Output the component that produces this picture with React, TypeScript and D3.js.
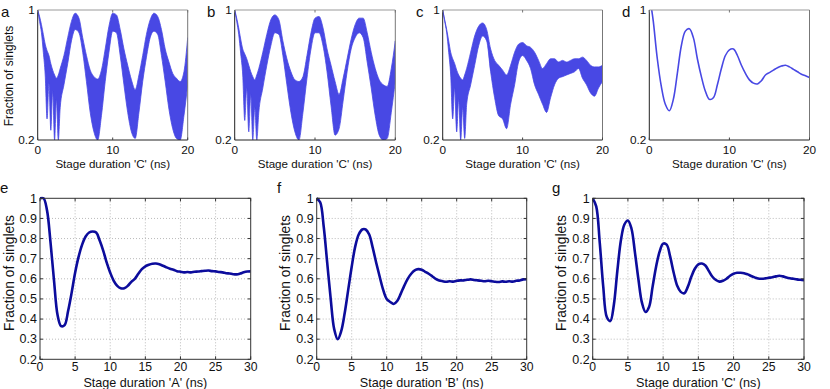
import React from "react";
import * as d3 from "d3";

// ---------- DATA ----------
const T_TOP = [0, 0.25, 0.5, 0.75, 1, 1.25, 1.5, 1.75, 2, 2.25, 2.5, 2.75, 3,
  3.5, 4, 4.5, 5, 5.5, 6, 6.5, 7, 7.5, 8, 8.5, 9, 9.5, 10, 10.5, 11, 11.5, 12, 12.5, 13,
  13.5, 14, 14.5, 15, 15.5, 16, 16.5, 17, 17.5, 18, 18.5, 19, 19.5, 20];

const A_UPPER = [1.0, 0.96, 0.91, 0.85, 0.79, 0.75, 0.72, 0.67, 0.63, 0.60, 0.58, 0.60, 0.64,
  0.72, 0.83, 0.93, 0.98, 0.95, 0.83, 0.72, 0.63, 0.59, 0.575,
  0.63, 0.76, 0.90, 0.98, 0.97, 0.88, 0.76, 0.66, 0.57, 0.51,
  0.60, 0.72, 0.85, 0.94, 0.98, 0.96, 0.88, 0.76, 0.68, 0.61,
  0.58, 0.56, 0.62, 0.83];
const A_LOWER = [1.0, 0.93, 0.86, 0.74, 0.60, 0.33, 0.55, 0.26, 0.50, 0.20, 0.45, 0.20, 0.40,
  0.54, 0.67, 0.81, 0.88, 0.86, 0.74, 0.56, 0.37, 0.25, 0.20,
  0.35, 0.56, 0.74, 0.87, 0.86, 0.72, 0.54, 0.37, 0.25, 0.21,
  0.37, 0.56, 0.71, 0.83, 0.87, 0.85, 0.72, 0.56, 0.39, 0.27,
  0.21, 0.20, 0.35, 0.54];

const B_UPPER = [1.0, 0.95, 0.89, 0.82, 0.76, 0.73, 0.70, 0.66, 0.62, 0.59, 0.57, 0.60, 0.64,
  0.74, 0.85, 0.94, 0.97, 0.94, 0.81, 0.70, 0.62, 0.57, 0.56,
  0.59, 0.72, 0.86, 0.95, 0.96, 0.89, 0.76, 0.66, 0.56, 0.48,
  0.58, 0.70, 0.82, 0.91, 0.95, 0.95, 0.86, 0.74, 0.64, 0.57,
  0.54, 0.53, 0.64, 0.81];
const B_LOWER = [1.0, 0.93, 0.85, 0.73, 0.60, 0.32, 0.52, 0.25, 0.48, 0.20, 0.40, 0.20, 0.37,
  0.52, 0.66, 0.78, 0.86, 0.85, 0.72, 0.54, 0.37, 0.25, 0.20,
  0.37, 0.58, 0.76, 0.86, 0.86, 0.78, 0.62, 0.41, 0.23, 0.27,
  0.44, 0.62, 0.76, 0.83, 0.86, 0.83, 0.68, 0.52, 0.35, 0.23,
  0.20, 0.21, 0.37, 0.56];

const C_UPPER = [1.0, 0.94, 0.88, 0.81, 0.74, 0.70, 0.67, 0.63, 0.60, 0.58, 0.57, 0.60, 0.64,
  0.74, 0.84, 0.90, 0.92, 0.88, 0.76, 0.69, 0.66, 0.63, 0.60,
  0.66, 0.74, 0.79, 0.80, 0.78, 0.77, 0.74, 0.69, 0.64, 0.67,
  0.70, 0.70, 0.68, 0.69, 0.68, 0.69, 0.70, 0.70, 0.71, 0.69,
  0.66, 0.65, 0.65, 0.66];
const C_LOWER = [1.0, 0.93, 0.86, 0.74, 0.60, 0.33, 0.52, 0.25, 0.45, 0.20, 0.40, 0.21, 0.42,
  0.54, 0.66, 0.78, 0.84, 0.81, 0.62, 0.46, 0.35, 0.33, 0.27,
  0.42, 0.54, 0.68, 0.72, 0.69, 0.64, 0.54, 0.48, 0.42, 0.37,
  0.46, 0.54, 0.58, 0.59, 0.60, 0.61, 0.62, 0.64, 0.58, 0.54,
  0.49, 0.47, 0.52, 0.56];

const T_D = [0.3, 0.5, 1, 1.5, 2, 2.5, 3, 3.5, 4, 4.5, 5, 5.5, 6, 6.5, 7, 7.5, 8, 8.5, 9, 9.5,
  10, 10.5, 11, 11.5, 12, 12.5, 13, 13.5, 14, 14.5, 15, 15.5, 16, 16.5, 17, 17.5, 18, 18.5, 19, 19.5, 20];
const D_VALUES = [1.0, 0.93, 0.70, 0.53, 0.42, 0.38, 0.45, 0.61, 0.78, 0.87, 0.885, 0.83, 0.70, 0.59,
  0.50, 0.45, 0.46, 0.54, 0.64, 0.72, 0.755, 0.76, 0.72, 0.66, 0.61, 0.57, 0.55, 0.545, 0.565,
  0.60, 0.615, 0.63, 0.645, 0.655, 0.66, 0.65, 0.635, 0.62, 0.605, 0.595, 0.585];

const T_BOT = d3.range(0, 30.01, 0.5);
const E_VALUES = [1.0, 1.0, 0.94, 0.78, 0.59, 0.42, 0.365, 0.37, 0.44, 0.53, 0.63, 0.71, 0.77, 0.81,
  0.83, 0.835, 0.83, 0.79, 0.74, 0.68, 0.63, 0.59, 0.565, 0.553, 0.553, 0.565, 0.585, 0.60, 0.625,
  0.648, 0.662, 0.67, 0.675, 0.676, 0.672, 0.665, 0.657, 0.65, 0.645, 0.638, 0.635, 0.632, 0.634,
  0.632, 0.635, 0.636, 0.638, 0.64, 0.641, 0.638, 0.637, 0.634, 0.632, 0.628, 0.626, 0.623, 0.622,
  0.626, 0.632, 0.636, 0.637];
const F_VALUES = [1.0, 0.98, 0.86, 0.68, 0.50, 0.35, 0.30, 0.34, 0.43, 0.545, 0.66, 0.76, 0.82, 0.845,
  0.845, 0.82, 0.755, 0.68, 0.61, 0.545, 0.50, 0.485, 0.475, 0.49, 0.525, 0.565, 0.60, 0.625, 0.642,
  0.648, 0.645, 0.635, 0.625, 0.613, 0.60, 0.592, 0.588, 0.585, 0.588, 0.586, 0.59, 0.592, 0.592,
  0.595, 0.597, 0.594, 0.592, 0.59, 0.588, 0.59, 0.588, 0.585, 0.584, 0.587, 0.585, 0.588, 0.586,
  0.59, 0.592, 0.597, 0.598];
const G_VALUES = [1.0, 0.96, 0.78, 0.56, 0.41, 0.39, 0.47, 0.64, 0.79, 0.87, 0.89, 0.85, 0.73, 0.595,
  0.48, 0.435, 0.46, 0.56, 0.66, 0.735, 0.775, 0.77, 0.71, 0.63, 0.565, 0.535, 0.528, 0.56, 0.61,
  0.65, 0.672, 0.676, 0.666, 0.638, 0.61, 0.594, 0.586, 0.59, 0.60, 0.615, 0.625, 0.63, 0.63, 0.628,
  0.622, 0.614, 0.607, 0.601, 0.60, 0.602, 0.605, 0.608, 0.612, 0.615, 0.612, 0.607, 0.603, 0.6,
  0.597, 0.595, 0.593];

const TOP_X_TICKS = [0, 10, 20];
const TOP_Y_TICKS = [0.2, 1];
const BOT_X_TICKS = [0, 5, 10, 15, 20, 25, 30];
const BOT_Y_TICKS = [0.2, 0.3, 0.4, 0.5, 0.6, 0.7, 0.8, 0.9, 1];

const Y_LABEL = "Fraction of singlets";

// ---------- STYLE ----------
const FONT = "'Liberation Sans', Arial, Helvetica, sans-serif";
const BAND_COLOR = "#4848e4";
const LINE_COLOR = "#0c0c9c";

type Box = { x0: number; x1: number; y0: number; y1: number };

function fmt(v: number) {
  return v === 1 ? "1" : String(+v.toFixed(1));
}

function TopPanel(props: {
  id: string; letter: string; box: Box; letterX: number; yLabel: boolean;
  xLabel: string; upper?: number[]; lower?: number[]; lineT?: number[]; line?: number[];
}) {
  const { box } = props;
  const x = d3.scaleLinear().domain([0, 20]).range([box.x0, box.x1]);
  const y = d3.scaleLinear().domain([0.2, 1]).range([box.y1, box.y0]);
  let bandPath: string | null = null;
  if (props.upper && props.lower) {
    const idx = d3.range(T_TOP.length);
    bandPath = d3.area<number>()
      .x((i) => x(T_TOP[i]))
      .y0((i) => y(props.lower![i]))
      .y1((i) => y(props.upper![i]))
      .curve(d3.curveMonotoneX)(idx);
  }
  let linePath: string | null = null;
  if (props.lineT && props.line) {
    const idx = d3.range(props.lineT.length);
    linePath = d3.line<number>()
      .x((i) => x(props.lineT![i]))
      .y((i) => y(props.line![i]))
      .curve(d3.curveCatmullRom)(idx);
  }
  const cx = (box.x0 + box.x1) / 2;
  return (
    <g>
      <defs>
        <clipPath id={props.id}>
          <rect x={box.x0} y={box.y0} width={box.x1 - box.x0} height={box.y1 - box.y0} />
        </clipPath>
      </defs>
      <g clipPath={`url(#${props.id})`}>
        {bandPath && <path d={bandPath} fill={BAND_COLOR} stroke={BAND_COLOR} strokeWidth={0.8} />}
        {linePath && <path d={linePath} fill="none" stroke={BAND_COLOR} strokeWidth={1.6} />}
      </g>
      <line x1={box.x0} x2={box.x1} y1={box.y0} y2={box.y0} stroke="#999" strokeWidth={1} />
      <line x1={box.x1} x2={box.x1} y1={box.y0} y2={box.y1} stroke="#777" strokeWidth={1} />
      <line x1={box.x0} x2={box.x1} y1={box.y1} y2={box.y1} stroke="#222" strokeWidth={1} />
      <line x1={box.x0} x2={box.x0} y1={box.y0} y2={box.y1} stroke="#222" strokeWidth={1} />
      {TOP_X_TICKS.map((t) => (
        <g key={t}>
          <line x1={x(t)} x2={x(t)} y1={box.y1} y2={box.y1 - 2.5} stroke="#444" />
          <line x1={x(t)} x2={x(t)} y1={box.y0} y2={box.y0 + 2.5} stroke="#777" />
          <text x={x(t)} y={153.5} textAnchor="middle" fontSize={11.8} fontFamily={FONT} fill="#111">{t}</text>
        </g>
      ))}
      {TOP_Y_TICKS.map((v) => (
        <text key={v} x={box.x0 - 3} y={y(v) + 4} textAnchor="end" fontSize={11.8} fontFamily={FONT} fill="#111">{fmt(v)}</text>
      ))}
      <text x={cx} y={168} textAnchor="middle" fontSize={11.6} fontFamily={FONT} fill="#111">{props.xLabel}</text>
      {props.yLabel && (
        <text transform={`translate(12.5,${(box.y0 + box.y1) / 2 + 1}) rotate(-90)`} textAnchor="middle" fontSize={12} fontFamily={FONT} fill="#111">{Y_LABEL}</text>
      )}
      <text x={props.letterX} y={17} fontSize={15} fontFamily={FONT} fill="#111">{props.letter}</text>
    </g>
  );
}

function BottomPanel(props: {
  id: string; letter: string; box: Box; letterX: number; yLabelX: number;
  xLabel: string; values: number[];
}) {
  const { box } = props;
  const x = d3.scaleLinear().domain([0, 30]).range([box.x0, box.x1]);
  const y = d3.scaleLinear().domain([0.2, 1]).range([box.y1, box.y0]);
  const idx = d3.range(T_BOT.length);
  const path = d3.line<number>()
    .x((i) => x(T_BOT[i]))
    .y((i) => y(props.values[i]))
    .curve(d3.curveCatmullRom)(idx) as string;
  const cx = (box.x0 + box.x1) / 2;
  return (
    <g>
      <defs>
        <clipPath id={props.id}>
          <rect x={box.x0} y={box.y0 - 2} width={box.x1 - box.x0} height={box.y1 - box.y0 + 2} />
        </clipPath>
      </defs>
      {BOT_X_TICKS.slice(1, -1).map((t) => (
        <line key={"gx" + t} x1={x(t)} x2={x(t)} y1={box.y0} y2={box.y1} stroke="#aaa" strokeWidth={0.8} strokeDasharray="1,2" />
      ))}
      {BOT_Y_TICKS.slice(1, -1).map((v) => (
        <line key={"gy" + v} x1={box.x0} x2={box.x1} y1={y(v)} y2={y(v)} stroke="#aaa" strokeWidth={0.8} strokeDasharray="1,2" />
      ))}
      <g clipPath={`url(#${props.id})`}>
        <path d={path} fill="none" stroke={LINE_COLOR} strokeWidth={2.6} strokeLinejoin="round" />
      </g>
      <rect x={box.x0} y={box.y0} width={box.x1 - box.x0} height={box.y1 - box.y0} fill="none" stroke="#333" strokeWidth={1} />
      {BOT_X_TICKS.map((t) => (
        <g key={t}>
          <line x1={x(t)} x2={x(t)} y1={box.y1} y2={box.y1 - 3} stroke="#333" />
          <line x1={x(t)} x2={x(t)} y1={box.y0} y2={box.y0 + 3} stroke="#333" />
          <text x={x(t)} y={371.3} textAnchor="middle" fontSize={12.2} fontFamily={FONT} fill="#111">{t}</text>
        </g>
      ))}
      {BOT_Y_TICKS.map((v) => (
        <g key={v}>
          <line x1={box.x0} x2={box.x0 + 3} y1={y(v)} y2={y(v)} stroke="#333" />
          <line x1={box.x1} x2={box.x1 - 3} y1={y(v)} y2={y(v)} stroke="#333" />
          <text x={box.x0 - 3} y={y(v) + 4.3} textAnchor="end" fontSize={12.5} fontFamily={FONT} fill="#111">{fmt(v)}</text>
        </g>
      ))}
      <text x={cx} y={387.3} textAnchor="middle" fontSize={12.6} fontFamily={FONT} fill="#111">{props.xLabel}</text>
      <text transform={`translate(${props.yLabelX},273) rotate(-90)`} textAnchor="middle" fontSize={13.8} fontFamily={FONT} fill="#111">{Y_LABEL}</text>
      <text x={props.letterX} y={193} fontSize={15} fontFamily={FONT} fill="#111">{props.letter}</text>
    </g>
  );
}

export default function App() {
  const tb = { y0: 10, y1: 140 };
  const bb = { y0: 198.3, y1: 359.3 };
  return (
    <svg width={830} height={389} style={{ position: "absolute", left: 0, top: 0, background: "#fff" }}>
      <rect width={830} height={389} fill="#fff" />
      <TopPanel id="ca" letter="a" letterX={1} box={{ x0: 37.7, x1: 187.7, ...tb }} yLabel={true}
        xLabel="Stage duration 'C' (ns)" upper={A_UPPER} lower={A_LOWER} />
      <TopPanel id="cb" letter="b" letterX={207} box={{ x0: 234.7, x1: 395.3, ...tb }} yLabel={false}
        xLabel="Stage duration 'C' (ns)" upper={B_UPPER} lower={B_LOWER} />
      <TopPanel id="cc" letter="c" letterX={416} box={{ x0: 442.7, x1: 602.5, ...tb }} yLabel={false}
        xLabel="Stage duration 'C' (ns)" upper={C_UPPER} lower={C_LOWER} />
      <TopPanel id="cd" letter="d" letterX={622} box={{ x0: 649.3, x1: 809.5, ...tb }} yLabel={false}
        xLabel="Stage duration 'C' (ns)" lineT={T_D} line={D_VALUES} />
      <BottomPanel id="ce" letter="e" letterX={0} yLabelX={13.5} box={{ x0: 40, x1: 250.7, ...bb }}
        xLabel="Stage duration 'A' (ns)" values={E_VALUES} />
      <BottomPanel id="cf" letter="f" letterX={277} yLabelX={289.5} box={{ x0: 316.7, x1: 526.7, ...bb }}
        xLabel="Stage duration 'B' (ns)" values={F_VALUES} />
      <BottomPanel id="cg" letter="g" letterX={552} yLabelX={565.5} box={{ x0: 592.7, x1: 804, ...bb }}
        xLabel="Stage duration 'C' (ns)" values={G_VALUES} />
    </svg>
  );
}
